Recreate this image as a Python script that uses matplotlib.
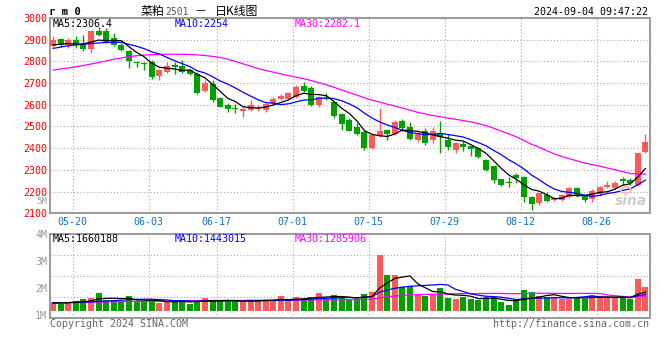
import matplotlib
matplotlib.use("Agg")
import matplotlib.pyplot as plt
import numpy as np
import pandas as pd

# ---------------- data ----------------
trade_days = pd.bdate_range("2024-05-16", "2024-09-04")
trade_days = trade_days[trade_days != pd.Timestamp("2024-06-10")]
day_labels = [d.strftime("%m-%d") for d in trade_days]

date_ticks = ["05-20", "06-03", "06-17", "07-01", "07-15", "07-29", "08-12", "08-26"]

opens = [2869, 2905, 2877, 2898, 2878, 2858, 2940, 2940, 2908, 2876,
         2848, 2797, 2794, 2796, 2733, 2751, 2782, 2777, 2759, 2744,
         2664, 2698, 2630, 2600, 2587, 2572, 2575, 2580, 2575, 2606,
         2628, 2629, 2636, 2685, 2679, 2598, 2632, 2613, 2557, 2529,
         2498, 2475, 2399, 2455, 2483, 2465, 2524, 2498, 2440, 2480,
         2437, 2468, 2440, 2394, 2419, 2409, 2402, 2345, 2317, 2256,
         2245, 2276, 2268, 2174, 2149, 2184, 2161, 2161, 2176, 2215,
         2180, 2164, 2189, 2220, 2215, 2256, 2253, 2230, 2383]
closes = [2897, 2876, 2900, 2875, 2855, 2940, 2921, 2888, 2877, 2852,
          2800, 2791, 2787, 2728, 2759, 2777, 2775, 2751, 2742, 2655,
          2700, 2621, 2592, 2582, 2581, 2581, 2597, 2585, 2605, 2627,
          2640, 2655, 2682, 2664, 2598, 2636, 2628, 2547, 2511, 2480,
          2465, 2403, 2460, 2478, 2465, 2521, 2495, 2444, 2465, 2425,
          2480, 2452, 2406, 2422, 2406, 2397, 2360, 2299, 2253, 2230,
          2241, 2261, 2174, 2143, 2192, 2158, 2169, 2184, 2215, 2180,
          2161, 2204, 2222, 2230, 2241, 2250, 2238, 2376, 2429]
highs = [2915, 2909, 2909, 2915, 2920, 2941, 2958, 2952, 2930, 2885,
         2853, 2802, 2797, 2805, 2767, 2797, 2797, 2805, 2767, 2751,
         2713, 2713, 2635, 2609, 2602, 2590, 2624, 2600, 2608, 2635,
         2650, 2660, 2690, 2705, 2685, 2640, 2655, 2615, 2560, 2537,
         2514, 2485, 2465, 2583, 2490, 2532, 2535, 2521, 2475, 2491,
         2498, 2525, 2465, 2430, 2435, 2412, 2405, 2350, 2320, 2260,
         2268, 2285, 2272, 2178, 2195, 2200, 2176, 2190, 2220, 2220,
         2185, 2210, 2228, 2250, 2250, 2268, 2262, 2380, 2465]
lows = [2866, 2866, 2860, 2863, 2848, 2840, 2918, 2885, 2872, 2846,
        2770, 2774, 2762, 2721, 2713, 2746, 2743, 2748, 2736, 2652,
        2659, 2615, 2588, 2567, 2560, 2544, 2570, 2570, 2565, 2600,
        2620, 2625, 2630, 2660, 2595, 2590, 2621, 2540, 2483, 2478,
        2460, 2391, 2395, 2450, 2437, 2460, 2480, 2440, 2430, 2414,
        2425, 2379, 2394, 2380, 2385, 2365, 2355, 2295, 2241, 2228,
        2220, 2240, 2153, 2115, 2140, 2150, 2155, 2155, 2170, 2175,
        2150, 2150, 2180, 2215, 2210, 2230, 2232, 2225, 2380]
# volume in millions
volumes = [1.48, 1.43, 1.48, 1.52, 1.60, 1.64, 1.81, 1.56, 1.56, 1.52,
           1.70, 1.52, 1.52, 1.52, 1.45, 1.52, 1.52, 1.56, 1.43, 1.52,
           1.64, 1.56, 1.56, 1.48, 1.48, 1.56, 1.58, 1.58, 1.54, 1.54,
           1.70, 1.54, 1.67, 1.62, 1.67, 1.81, 1.62, 1.74, 1.64, 1.57,
           1.62, 1.79, 1.86, 3.22, 2.48, 2.48, 2.04, 2.07, 1.79, 1.73,
           1.77, 2.01, 1.64, 1.60, 1.69, 1.60, 1.56, 1.67, 1.67, 1.49,
           1.37, 1.52, 1.93, 1.85, 1.70, 1.67, 1.67, 1.62, 1.62, 1.67,
           1.62, 1.77, 1.67, 1.67, 1.64, 1.67, 1.62, 2.33, 2.04]

# moving-average values before the window fills
ma5_head = [2876, 2879, 2882, 2880]
ma10_head = [2860, 2866, 2872, 2876, 2879, 2882, 2885, 2887, 2888]
ma30_head = [2760, 2765, 2770, 2775, 2781, 2788, 2795, 2802, 2810, 2816,
             2822, 2826, 2829, 2831, 2832, 2833, 2833, 2833, 2832, 2830,
             2827, 2823, 2818, 2810, 2800, 2789, 2778, 2767, 2758]
vma5_head = [1.46, 1.46, 1.47, 1.48]
vma10_head = [1.46, 1.46, 1.47, 1.48, 1.49, 1.50, 1.52, 1.53, 1.54]
vma30_head = [1.46, 1.47, 1.47, 1.48, 1.48, 1.49, 1.49, 1.50, 1.50, 1.51,
              1.51, 1.52, 1.52, 1.52, 1.53, 1.53, 1.53, 1.54, 1.54, 1.54,
              1.54, 1.55, 1.55, 1.55, 1.55, 1.55, 1.56, 1.56, 1.56]

price_ma_text = ["MA5:2306.4", "MA10:2254", "MA30:2282.1"]
vol_ma_text = ["MA5:1660188", "MA10:1443015", "MA30:1285906"]
price_ticks = [2100, 2200, 2300, 2400, 2500, 2600, 2700, 2800, 2900, 3000]
vol_ticks = [1, 2, 3, 4]
vol_tick_labels = ["1M", "2M", "3M", "4M"]


def with_head(series, window, head):
    out = pd.Series(series, dtype=float).rolling(window).mean().to_numpy()
    out[:len(head)] = head
    return out


ma5 = with_head(closes, 5, ma5_head)
ma10 = with_head(closes, 10, ma10_head)
ma30 = with_head(closes, 30, ma30_head)
vma5 = with_head(volumes, 5, vma5_head)
vma10 = with_head(volumes, 10, vma10_head)
vma30 = with_head(volumes, 30, vma30_head)

# ---------------- style ----------------
RED = "#ff5a5a"
GREEN = "#00a000"
GRID = "#a8a8a8"
FRAME = "#9a9a9a"
MONO = "DejaVu Sans Mono"
CJK = ["Noto Sans CJK SC", "DejaVu Sans"]
FS = 7.2

W, H = 660, 360
fig = plt.figure(figsize=(6.6, 3.6), dpi=100)
fig.patch.set_facecolor("white")


def fx(px):
    return px / W


def fy(py):
    return 1 - py / H


axp = fig.add_axes([fx(50), fy(213.3), 600 / W, (213.3 - 18) / H])
axv = fig.add_axes([fx(50), fy(318.3), 600 / W, 84 / H])

n = len(closes)
x = np.arange(n)
bw = 0.79
o = np.array(opens, float)
c = np.array(closes, float)
hi = np.array(highs, float)
lo = np.array(lows, float)
up = c >= o
cols = np.where(up, RED, GREEN)

tick_idx = [day_labels.index(t) for t in date_ticks]
grid_x = [i + 0.57 for i in tick_idx]

for ax in (axp, axv):
    ax.set_xlim(-0.4, n - 0.4)
    for gx in grid_x:
        ax.axvline(gx, color=GRID, lw=0.8, ls=(0, (1, 2)), zorder=0)
    for s in ax.spines.values():
        s.set_color(FRAME)
        s.set_linewidth(1.4)
    ax.tick_params(length=0)

# ---- price panel ----
axp.set_ylim(2100, 3000)
for yv in price_ticks[1:-1]:
    axp.axhline(yv, color=GRID, lw=0.8, ls=(0, (1, 2)), zorder=0)
axp.vlines(x, lo, hi, colors=cols, lw=1.0, zorder=2)
body_h = np.maximum(np.abs(c - o), 2.5)
axp.bar(x, body_h, bottom=np.minimum(o, c), width=bw, color=cols,
        edgecolor=cols, linewidth=0, zorder=3)
axp.plot(x, ma30, color="#ff00ff", lw=0.9, zorder=4)
axp.plot(x, ma10, color="#0000ff", lw=0.9, zorder=4)
axp.plot(x, ma5, color="black", lw=0.9, zorder=4)
axp.set_yticks(price_ticks)
axp.set_yticklabels([str(t) for t in price_ticks], color="#ff0000",
                    fontsize=FS, family=MONO)
axp.tick_params(axis="y", pad=2)
axp.set_xticks(grid_x)
axp.set_xticklabels(date_ticks, color="#0a74c8", fontsize=FS, family=MONO)
axp.tick_params(axis="x", pad=2.5)

# ---- volume panel ----
vfloor = 1.16
vbot, vtop = 0.89, 4.0
axv.set_ylim(vbot, vtop)
step = (vtop - vbot) / 4
for k in (1, 2, 3):
    axv.axhline(vbot + k * step, color=GRID, lw=0.8, ls=(0, (1, 2)), zorder=0)
vol = np.array(volumes)
axv.bar(x, vol - vfloor, bottom=vfloor, width=bw, color=cols, linewidth=0,
        zorder=2)
axv.plot(x, vma30, color="#ff00ff", lw=0.9, zorder=3)
axv.plot(x, vma10, color="#0000ff", lw=0.9, zorder=3)
axv.plot(x, vma5, color="black", lw=0.9, zorder=3)
axv.set_yticks(vol_ticks)
axv.set_yticklabels(vol_tick_labels, color="#999999", fontsize=FS, family=MONO)
axv.tick_params(axis="y", pad=2)
axv.set_xticks([])

# ---- texts ----
def ftext(px, py, s, **kw):
    fig.text(fx(px), fy(py), s, **kw)


ftext(49, 12, "r m 0", fontsize=7.6, family=MONO, weight="bold",
      va="center", ha="left")
ftext(140.5, 11.5, "菜粕", fontsize=8.6, family=CJK, va="center", ha="left")
ftext(165, 12, "2501", fontsize=7.0, family=MONO, color="#555555",
      va="center", ha="left")
ftext(200, 11.5, "－", fontsize=8.6, family=CJK, va="center", ha="center")
ftext(214.5, 11.5, "日K线图", fontsize=8.6, family=CJK, va="center", ha="left")
ftext(648, 12, "2024-09-04 09:47:22", fontsize=FS, family=MONO,
      va="center", ha="right")

ma_cols = ["black", "#0000ff", "#ff00ff"]
ma_x = [53, 175, 295]
for s, cc, px in zip(price_ma_text, ma_cols, ma_x):
    ftext(px, 24, s, fontsize=FS, family=MONO, color=cc, va="center",
          ha="left")
for s, cc, px in zip(vol_ma_text, ma_cols, ma_x):
    ftext(px, 238.5, s, fontsize=FS, family=MONO, color=cc, va="center",
          ha="left")

ftext(47, 201.5, "5M", fontsize=6.6, family=MONO, color="#999999",
      va="center", ha="right")
ftext(50, 324, "Copyright 2024 SINA.COM", fontsize=FS, family=MONO,
      color="#666666", va="center", ha="left")
ftext(649, 324, "http://finance.sina.com.cn", fontsize=FS, family=MONO,
      color="#666666", va="center", ha="right")

# watermark
ftext(647, 201, "sina", fontsize=10, family="DejaVu Sans", style="italic",
      weight="bold", color="#c8c8c8", va="center", ha="right", alpha=0.9)
fig.patches.append(matplotlib.patches.Ellipse((fx(626), fy(190)), 10 / W,
                   6 / H, transform=fig.transFigure, fill=False,
                   edgecolor="#f2b8b8", lw=1.2))

fig.savefig("out.png", dpi=100, facecolor="white")
